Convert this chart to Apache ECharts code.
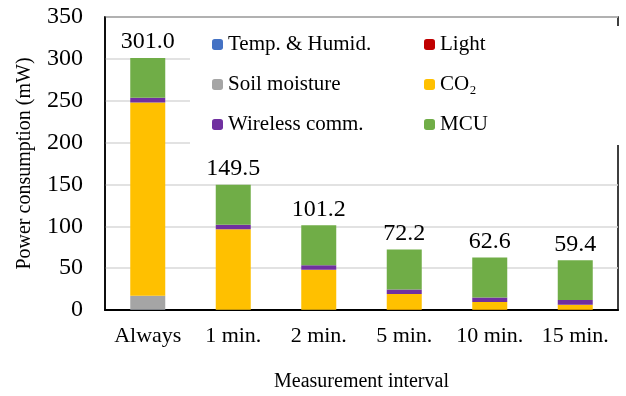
<!DOCTYPE html>
<html>
<head>
<meta charset="utf-8">
<script src="https://cdn.jsdelivr.net/npm/echarts@6/dist/echarts.min.js"></script>
<style>
  html, body { margin: 0; padding: 0; background: #fff; }
  #main { width: 626px; height: 396px; }
</style>
</head>
<body>
<div id="main"></div>
<script>
  // categories and stacked values (mW)
  var intervals = ['Always', '1 min.', '2 min.', '5 min.', '10 min.', '15 min.']
  var tempHumid = [0.3, 0.2, 0.2, 0.1, 0.1, 0.1]
  var light = [0.1, 0.1, 0.1, 0.1, 0.1, 0.1]
  var soil = [16.5, 0.1, 0.1, 0.1, 0.1, 0.1]
  var co2 = [231.0, 96.0, 47.7, 18.8, 9.2, 6.0]
  var wireless = [5.5, 5.5, 5.5, 5.5, 5.5, 5.5]
  var mcu = [47.6, 47.6, 47.6, 47.6, 47.6, 47.6]

  var myChart = echarts.init(document.getElementById('main'))
  var font = '"Liberation Serif", "Times New Roman", serif'

  var parts = [
    ['Temp. & Humid.', tempHumid, '#4472C4'],
    ['Light', light, '#C00000'],
    ['Soil moisture', soil, '#A5A5A5'],
    ['CO₂', co2, '#FFC000'],
    ['Wireless comm.', wireless, '#7030A0'],
    ['MCU', mcu, '#70AD47']
  ]

  function total(i) {
    var s = 0
    parts.forEach(function (p) { s += p[1][i] })
    return s.toFixed(1)
  }

  var series = parts.map(function (p, k) {
    var s = {
      name: p[0],
      type: 'bar',
      stack: 'power',
      barWidth: 35,
      itemStyle: { color: p[2] },
      data: p[1]
    }
    if (k === parts.length - 1) {
      s.label = {
        show: true,
        position: 'top',
        distance: 4,
        color: '#000',
        fontFamily: font,
        fontSize: 24,
        formatter: function (d) { return total(d.dataIndex) }
      }
    }
    return s
  })

  var legendText = { color: '#000', fontFamily: font, fontSize: 21, lineHeight: 20 }

  var option = {
    animation: false,
    backgroundColor: '#fff',
    grid: {
      left: 105, right: 8, top: 17, bottom: 86,
      outerBoundsMode: 'none',
      show: true, borderColor: '#000', borderWidth: 1.5
    },
    legend: [{
      data: ['Temp. & Humid.', 'Soil moisture', 'Wireless comm.'],
      orient: 'vertical',
      left: 190, top: 26,
      padding: [8, 250, 10, 22],
      backgroundColor: '#fff',
      itemWidth: 11, itemHeight: 11, itemGap: 19,
      textStyle: legendText
    }, {
      data: ['Light', 'CO₂', 'MCU'],
      orient: 'vertical',
      left: 424, top: 34,
      padding: 0,
      z: 6,
      itemWidth: 11, itemHeight: 11, itemGap: 19,
      textStyle: legendText
    }],
    xAxis: {
      type: 'category',
      data: intervals,
      name: 'Measurement interval',
      nameLocation: 'middle',
      nameGap: 62,
      nameTextStyle: { color: '#000', fontFamily: font, fontSize: 20 },
      axisLine: { lineStyle: { color: '#000', width: 2 } },
      axisTick: { show: false },
      axisLabel: { color: '#000', fontFamily: font, fontSize: 22, margin: 15, interval: 0, hideOverlap: false }
    },
    yAxis: {
      type: 'value',
      min: 0, max: 350, interval: 50,
      name: 'Power consumption (mW)',
      nameLocation: 'middle',
      nameGap: 70,
      nameTextStyle: { color: '#000', fontFamily: font, fontSize: 20 },
      axisLine: { show: true, lineStyle: { color: '#000', width: 1.5 } },
      axisTick: { show: false },
      axisLabel: { color: '#000', fontFamily: font, fontSize: 24, margin: 22 },
      splitLine: { lineStyle: { color: '#d9d9d9', width: 1.5 } }
    },
    series: series
  }
  myChart.setOption(option)
</script>
</body>
</html>
